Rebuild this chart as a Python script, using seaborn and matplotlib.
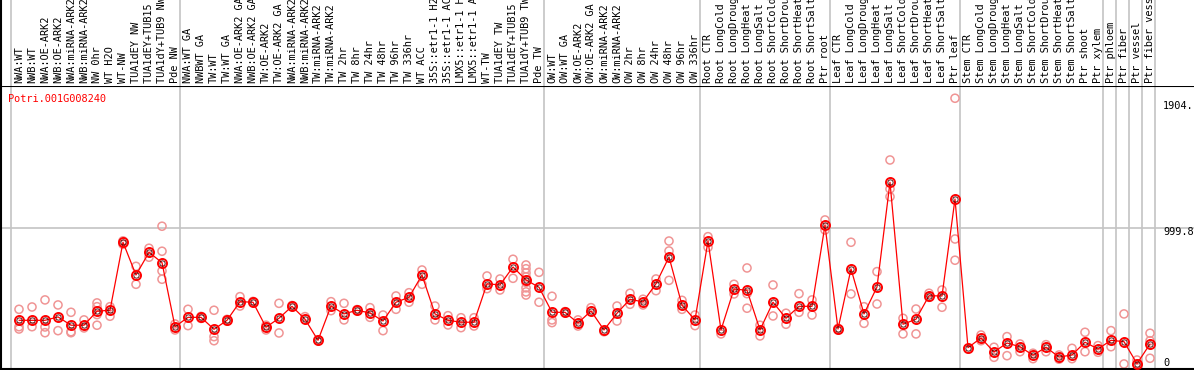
import pandas as pd
import seaborn as sns
import matplotlib.pyplot as plt

# Sample names (top labels), in plot order
samples = [
    'NWA:WT', 'NWB:WT', 'NWA:OE-ARK2', 'NWB:OE-ARK2', 'NWA:miRNA-ARK2', 'NWB:miRNA-ARK2',
    'NW 0hr', 'WT H2O', 'WT-NW', 'TUA1dEY NW', 'TUA1dEY+TUB15 NW', 'TUA1dY+TUB9 NW', 'Pde NW',
    'NWA:WT GA', 'NWBWT GA', 'TW:WT', 'TW:WT GA', 'NWA:OE-ARK2 GA', 'NWB:OE-ARK2 GA',
    'TW:OE-ARK2', 'TW:OE-ARK2 GA', 'NWA:miRNA-ARK2', 'NWB:miRNA-ARK2', 'TW:miRNA-ARK2',
    'TW:miRNA-ARK2', 'TW 2hr', 'TW 8hr', 'TW 24hr', 'TW 48hr', 'TW 96hr', 'TW 336hr', 'WT ACC',
    '35S::etr1-1 H2O', '35S::etr1-1 ACC', 'LMX5::etr1-1 H2O', 'LMX5::etr1-1 ACC', 'WT-TW',
    'TUA1dEY TW', 'TUA1dEY+TUB15 TW', 'TUA1dY+TUB9 TW', 'Pde TW',
    'OW:WT', 'OW:WT GA', 'OW:OE-ARK2', 'OW:OE-ARK2 GA', 'OW:miRNA-ARK2', 'OW:miRNA-ARK2',
    'OW 2hr', 'OW 8hr', 'OW 24hr', 'OW 48hr', 'OW 96hr', 'OW 336hr',
    'Root CTR', 'Root LongCold', 'Root LongDrought', 'Root LongHeat', 'Root LongSalt',
    'Root ShortCold', 'Root ShortDrought', 'Root ShortHeat', 'Root ShortSalt', 'Ptr root',
    'Leaf CTR', 'Leaf LongCold', 'Leaf LongDrought', 'Leaf LongHeat', 'Leaf LongSalt',
    'Leaf ShortCold', 'Leaf ShortDrought', 'Leaf ShortHeat', 'Leaf ShortSalt', 'Ptr leaf',
    'Stem CTR', 'Stem LongCold', 'Stem LongDrought', 'Stem LongHeat', 'Stem LongSalt',
    'Stem ShortCold', 'Stem ShortDrought', 'Stem ShortHeat', 'Stem ShortSalt', 'Ptr shoot',
    'Ptr xylem', 'Ptr phloem', 'Ptr fiber', 'Ptr vessel', 'Ptr fiber vessel',
]

# mean expression per sample
means = [
    321, 321, 321, 346, 285, 285, 388, 395, 895, 654, 821, 745, 274,
    343, 343, 255, 321, 458, 454, 270, 336, 424, 329, 174, 426, 368, 395, 375, 316,
    454, 490, 654, 368, 321, 307, 307, 590, 581, 713, 618, 564,
    380, 380, 301, 390, 250, 373, 476, 456, 590, 787, 432, 324,
    904, 250, 551, 542, 250, 454, 336, 424, 424, 1020,
    257, 699, 368, 566, 1336, 292, 329, 502, 500, 1213,
    120, 191, 88, 154, 127, 64, 123, 51, 66, 160,
    110, 174, 164, 2, 147,
]

# individual replicates per sample
replicates = [
    [402, 274, 257], [419, 274], [471, 272, 230], [434, 245], [380, 237, 230], [324, 265],
    [449, 421, 363, 285], [421, 351], [880, 905], [718, 586], [851, 785],
    [1013, 829, 684, 623], [294, 250],
    [402, 282], [335, 350], [395, 201, 171], [315, 328], [495, 426], [450, 460], [250, 285],
    [446, 228], [420, 430], [348], [170, 178], [458, 392], [446, 324], [390, 400], [414, 343],
    [360, 245], [500, 402], [524, 454], [691, 586], [426, 324], [355, 287], [340, 267],
    [340, 279], [647, 554], [625, 544], [770, 630],
    [728, 700, 670, 640, 600, 560, 530, 507], [674, 454],
    [498, 324, 304], [375, 385], [324, 279], [414], [237], [426, 316], [520, 439], [476, 434],
    [625, 539], [904, 831, 615], [468, 402], [360, 282],
    [936, 858], [221], [586, 515], [706, 517, 410], [285, 206], [581, 353], [373, 292],
    [517, 380], [471, 360], [1059, 985],
    [250, 262], [895, 515], [421, 299], [679, 441], [1500, 1287, 1230], [336, 221], [404, 221],
    [520, 490], [544, 417], [1954, 919, 763],
    [110], [213, 171], [123, 49], [201, 61], [147, 90], [79, 39], [142, 90], [66, 35], [115, 39],
    [233, 90], [135, 86], [245, 127], [368, 0], [29, 0], [226, 171, 42],
]

# group boundaries (a separator line after these sample positions)
group_ends = [-1, 12, 40, 52, 62, 72, 83, 84, 85, 86, 87]

df_mean = pd.DataFrame({'pos': range(len(samples)), 'value': means})
df_rep = pd.DataFrame(
    [(i, v) for i, reps in enumerate(replicates) for v in reps],
    columns=['pos', 'value'],
)

sns.set_style('white')
plt.rcParams['font.family'] = ['DejaVu Sans Mono', 'DejaVu Sans']

fig = plt.figure(figsize=(11.94, 3.70), dpi=100)
ax = fig.add_axes([1 / 1194, 1 / 370, 1193 / 1194, 283 / 370])
ax_top = fig.add_axes([1 / 1194, 284 / 370, 1193 / 1194, 86 / 370], sharex=ax)

xmin, xmax = (1 - 19) / 13, (1194 - 19) / 13

# Separator lines through both panels
for g in group_ends:
    ax.axvline(g + 0.385, color='#c4c4c4', lw=1.2, zorder=0)
    ax_top.axvline(g + 0.385, color='#c4c4c4', lw=1.2, zorder=0)
ax.axhline(999.8, color='#c4c4c4', lw=1.2, zorder=0)

# Replicates and mean line
sns.scatterplot(data=df_rep, x='pos', y='value', ax=ax, marker='o', s=34,
                facecolor='none', edgecolor='#f09595', linewidth=1.1, zorder=2)
sns.lineplot(data=df_mean, x='pos', y='value', ax=ax, color='red', lw=0.9,
             marker='o', markersize=6.5, markerfacecolor='none',
             markeredgecolor='red', markeredgewidth=1.4, zorder=3)
ax.plot(df_mean['pos'], df_mean['value'], ls='none', marker='o', markersize=3.8,
        markerfacecolor='none', markeredgecolor='#400000', markeredgewidth=0.6, zorder=4)

ax.set_xlim(xmin, xmax)
ax.set_ylim(-37, 2044)
ax.set_xlabel('')
ax.set_ylabel('')
ax.set_xticks([])
ax.set_yticks([])
for side in ['left', 'bottom', 'top']:
    ax.spines[side].set_color('black')
    ax.spines[side].set_linewidth(1.5)
ax.spines['right'].set_visible(False)

# y value labels on the right
for val, txt, dy in [(1904, '1904.', -1), (999.8, '999.8', -3), (0, '0', 1)]:
    ax.annotate(txt, (88.0, val), xytext=(0, dy), textcoords='offset points',
                ha='left', va='center', fontsize=7.4, color='black')

ax.text(0.006, 0.955, 'Potri.001G008240', transform=ax.transAxes, color='red',
        fontsize=7.4, ha='left', va='center')

# Sample labels on top panel
ax_top.set_ylim(0, 86)
for i, name in enumerate(samples):
    ax_top.text(i, 3, name, rotation=90, ha='center', va='bottom', fontsize=7.4,
                color='black', clip_on=False)
ax_top.set_xticks([])
ax_top.set_yticks([])
for side in ['top', 'right', 'bottom']:
    ax_top.spines[side].set_visible(False)
ax_top.spines['left'].set_color('black')
ax_top.spines['left'].set_linewidth(1.5)

fig.savefig('out.png', dpi=100)
